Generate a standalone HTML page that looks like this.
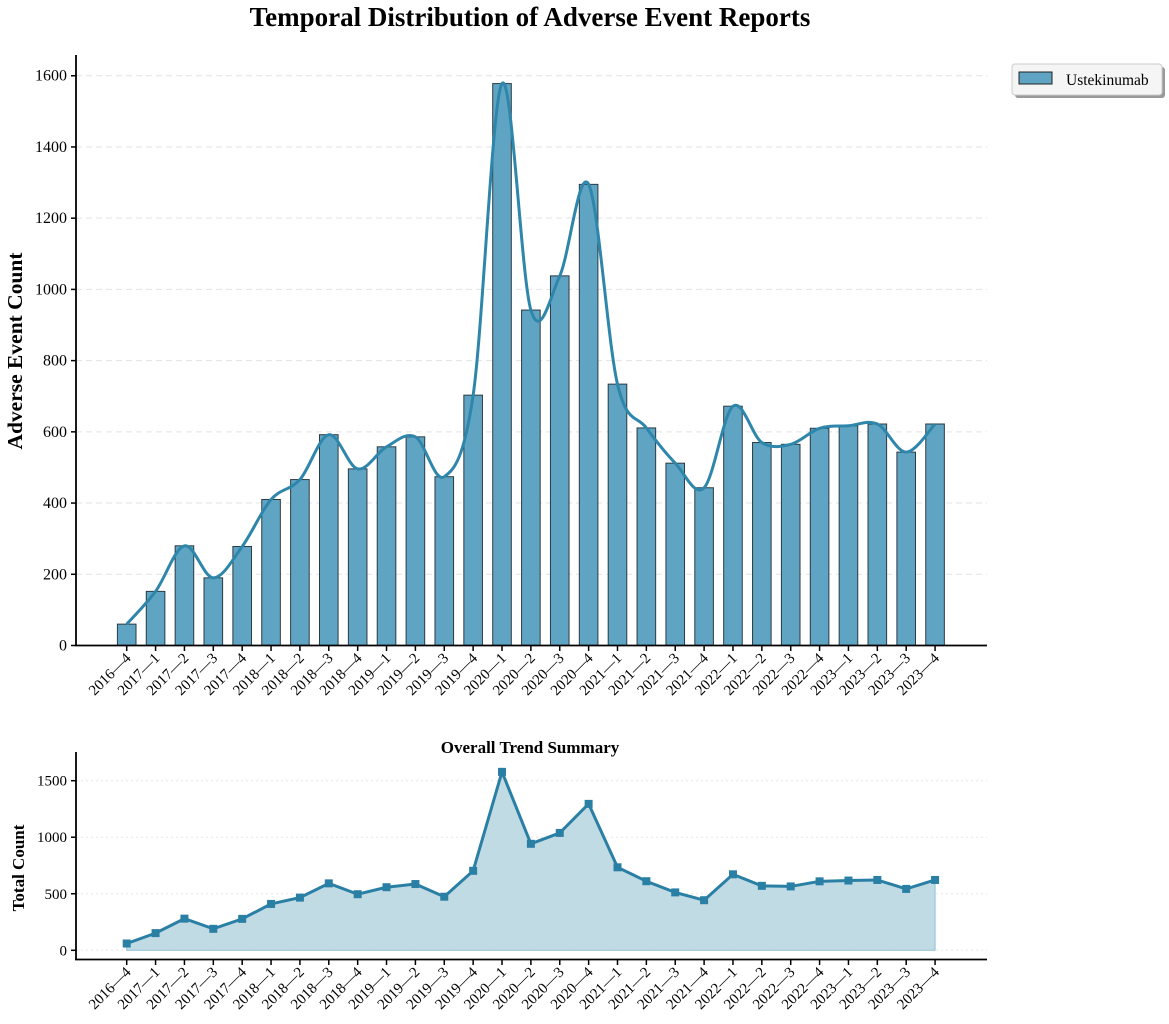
<!DOCTYPE html>
<html><head><meta charset="utf-8"><style>
body{margin:0;background:#fff;}
svg text{font-family:"Liberation Serif",serif;fill:#000;}
</style></head><body>
<svg id="chart" width="1169" height="1019" xmlns="http://www.w3.org/2000/svg">
<text x="530" y="26" text-anchor="middle" font-size="27" font-weight="bold">Temporal Distribution of Adverse Event Reports</text>
<g id="main"></g>
<g id="sub"></g>
<g>
<rect x="1015" y="67" width="150" height="31" rx="3" fill="#999"/>
<rect x="1012" y="64" width="150" height="31" rx="3" fill="#f5f5f5" stroke="#ccc"/>
<rect x="1019" y="72" width="33" height="12" fill="#5fa4c3" stroke="#222" stroke-width="1"/>
<text x="1066" y="85" font-size="15.5">Ustekinumab</text>
</g>
</svg>
<script>
const categories=["2016—4","2017—1","2017—2","2017—3","2017—4","2018—1","2018—2","2018—3","2018—4","2019—1","2019—2","2019—3","2019—4","2020—1","2020—2","2020—3","2020—4","2021—1","2021—2","2021—3","2021—4","2022—1","2022—2","2022—3","2022—4","2023—1","2023—2","2023—3","2023—4"];
const counts=[60,152,280,190,278,410,466,592,496,558,586,474,703,1578,942,1038,1295,734,611,512,443,672,570,565,610,617,622,543,622];
const mainTicks=[0,200,400,600,800,1000,1200,1400,1600];
const subTicks=[0,500,1000,1500];
const NS="http://www.w3.org/2000/svg";
function mk(p,t,a){const e=document.createElementNS(NS,t);for(const k in a)e.setAttribute(k,a[k]);p.appendChild(e);return e;}
const xs=i=>126.7+i*28.87;
const ym=v=>645.5-v*0.3561;
const ys=v=>950.3-v*0.11307;
const main=document.getElementById('main'),sub=document.getElementById('sub');
mainTicks.forEach(t=>{
 if(t>0){const g=mk(main,'line',{x1:76,x2:987,y1:ym(t),y2:ym(t),stroke:'#e3e3e3','stroke-dasharray':'6,4'});
 
 }
 mk(main,'line',{x1:71,x2:76,y1:ym(t),y2:ym(t),stroke:'#000','stroke-width':1.5});
 const l=mk(main,'text',{x:67,y:ym(t)+5,'text-anchor':'end','font-size':16});l.textContent=t;
 
 
});
counts.forEach((v,i)=>{
 const b=mk(main,'rect',{x:xs(i)-9.3,y:ym(v),width:18.6,height:ym(0)-ym(v),fill:'#5fa4c3',stroke:'#2b3b44','stroke-width':1});
 
 
});
let pts=counts.map((v,i)=>[xs(i),ym(v)]);
let d='M'+pts[0][0]+','+pts[0][1];
for(let i=0;i<pts.length-1;i++){
 const p0=pts[Math.max(0,i-1)],p1=pts[i],p2=pts[i+1],p3=pts[Math.min(pts.length-1,i+2)];
 const c1=[p1[0]+(p2[0]-p0[0])/6,p1[1]+(p2[1]-p0[1])/6],c2=[p2[0]-(p3[0]-p1[0])/6,p2[1]-(p3[1]-p1[1])/6];
 d+=' C'+c1+' '+c2+' '+p2;
}
const cv=mk(main,'path',{d:d,fill:'none',stroke:'#2e86ab','stroke-width':3});


mk(main,'line',{x1:76,x2:76,y1:55,y2:646,stroke:'#000','stroke-width':1.8});
mk(main,'line',{x1:75,x2:987,y1:645.5,y2:645.5,stroke:'#000','stroke-width':1.8});
const yt=mk(main,'text',{x:0,y:0,transform:'translate(22,351) rotate(-90)','text-anchor':'middle','font-size':21.5,'font-weight':'bold'});yt.textContent='Adverse Event Count';


function xlabels(g,y){categories.forEach((c,i)=>{
 mk(g,'line',{x1:xs(i),x2:xs(i),y1:y,y2:y+5,stroke:'#000','stroke-width':1.5});
 const t=mk(g,'text',{x:0,y:0,transform:`translate(${xs(i)+5},${y+13}) rotate(-45)`,'text-anchor':'end','font-size':15});t.textContent=c;
 
 
});}
xlabels(main,646);
const st=mk(sub,'text',{x:530,y:753,'text-anchor':'middle','font-size':17,'font-weight':'bold'});st.textContent='Overall Trend Summary';


subTicks.forEach(t=>{
 mk(sub,'line',{x1:76,x2:987,y1:ys(t),y2:ys(t),stroke:'#e6e6e6','stroke-dasharray':'2,3'});
 mk(sub,'line',{x1:71,x2:76,y1:ys(t),y2:ys(t),stroke:'#000','stroke-width':1.5});
 const l=mk(sub,'text',{x:67,y:ys(t)+5,'text-anchor':'end','font-size':15});l.textContent=t;
 
 
});
let ad='M'+xs(0)+','+ys(0);counts.forEach((v,i)=>ad+=' L'+xs(i)+','+ys(v));ad+=' L'+xs(counts.length-1)+','+ys(0)+'Z';
const ar=mk(sub,'path',{d:ad,fill:'#c1dbe4',stroke:'#8cc0d6','stroke-width':1});


const ln=mk(sub,'polyline',{points:counts.map((v,i)=>xs(i)+','+ys(v)).join(' '),fill:'none',stroke:'#2a7fa5','stroke-width':3});


counts.forEach((v,i)=>{
 const m=mk(sub,'rect',{x:xs(i)-4,y:ys(v)-4,width:8,height:8,fill:'#2a7fa5'});
 
 
});
mk(sub,'line',{x1:76,x2:76,y1:752,y2:960,stroke:'#000','stroke-width':1.8});
mk(sub,'line',{x1:75,x2:987,y1:959.5,y2:959.5,stroke:'#000','stroke-width':1.8});
const syt=mk(sub,'text',{x:0,y:0,transform:'translate(24,868) rotate(-90)','text-anchor':'middle','font-size':17,'font-weight':'bold'});syt.textContent='Total Count';


xlabels(sub,960);
</script>
</body></html>
